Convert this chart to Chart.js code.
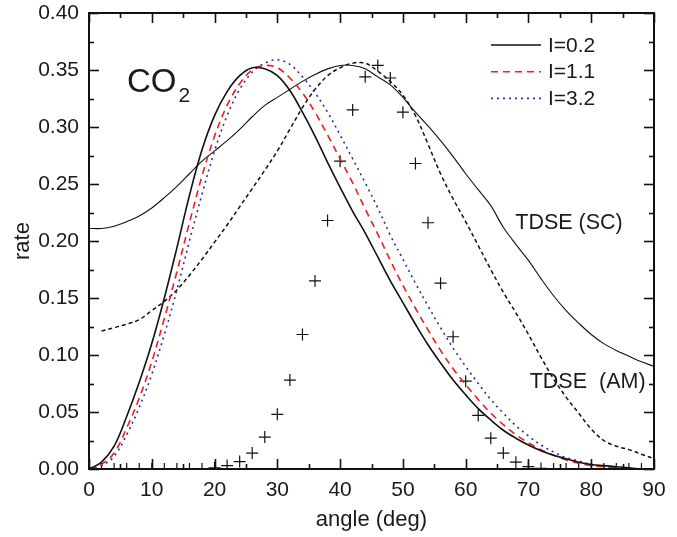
<!DOCTYPE html>
<html>
<head>
<meta charset="utf-8">
<script src="https://cdn.jsdelivr.net/npm/chart.js@4.4.1/dist/chart.umd.min.js"></script>
<style>
html,body{margin:0;padding:0;background:#fff;}
#wrap{width:677px;height:537px;position:relative;}
</style>
</head>
<body>
<div id="wrap"><canvas id="c" width="677" height="537"></canvas></div>
<script>
// angles (deg)
const angles = [0,2,4,6,8,10,12,14,16,18,20,22,24,26,28,30,32,34,36,38,40,42,44,46,48,50,52,54,56,58,60,62,64,66,68,70,72,74,76,78,80,82,84,86,88,90];
// I=0.2
const rateI02 = [0,0.006,0.020,0.046,0.076,0.110,0.150,0.194,0.240,0.280,0.310,0.331,0.345,0.352,0.351,0.345,0.332,0.313,0.292,0.269,0.247,0.226,0.207,0.186,0.165,0.146,0.127,0.109,0.093,0.078,0.065,0.053,0.043,0.034,0.027,0.021,0.016,0.012,0.009,0.006,0.004,0.003,0.002,0.001,0,0];
// I=1.1
const rateI11 = [0,0.004,0.014,0.036,0.062,0.094,0.132,0.173,0.216,0.257,0.292,0.319,0.338,0.350,0.354,0.352,0.343,0.330,0.313,0.293,0.272,0.251,0.228,0.206,0.183,0.161,0.141,0.122,0.104,0.088,0.074,0.061,0.049,0.039,0.030,0.023,0.017,0.012,0.008,0.005,0.003,0.002,0.001,0,0,0];
// I=3.2
const rateI32 = [0,0.003,0.011,0.030,0.054,0.083,0.118,0.157,0.200,0.241,0.279,0.310,0.333,0.348,0.356,0.359,0.355,0.344,0.330,0.313,0.293,0.272,0.251,0.229,0.205,0.184,0.163,0.143,0.124,0.106,0.090,0.075,0.061,0.049,0.038,0.029,0.021,0.015,0.010,0.007,0.004,0.002,0.001,0,0,0];
// TDSE (SC)
const rateSC = [0.211,0.211,0.213,0.217,0.222,0.229,0.238,0.248,0.259,0.270,0.279,0.288,0.298,0.309,0.319,0.326,0.333,0.340,0.346,0.351,0.354,0.354,0.351,0.344,0.337,0.326,0.313,0.301,0.288,0.274,0.259,0.245,0.231,0.212,0.197,0.183,0.167,0.152,0.139,0.128,0.118,0.110,0.104,0.099,0.094,0.090];
// TDSE (AM)
const rateAM = [null,0.121,0.124,0.127,0.131,0.139,0.147,0.157,0.170,0.184,0.199,0.214,0.230,0.246,0.262,0.279,0.298,0.317,0.333,0.345,0.352,0.356,0.356,0.349,0.340,0.328,0.310,0.285,0.259,0.237,0.217,0.196,0.175,0.155,0.137,0.118,0.098,0.079,0.063,0.049,0.035,0.025,0.020,0.017,0.013,0.009];
// crosses
const rateCross = [0,0,0,0,0,0,0,0,0,0,0.001,0.003,0.0065,0.014,0.028,0.048,0.078,0.118,0.165,0.218,0.270,0.315,0.344,0.354,0.343,0.313,0.268,0.216,0.163,0.116,0.077,0.047,0.027,0.014,0.006,0.002,0.0005,0,0,0,0,0,0,0,0,0];

const legendLabels = ['I=0.2','I=1.1','I=3.2'];
const xTitle = 'angle (deg)';
const yTitle = 'rate';

const FONT = '"Liberation Sans", Arial, Helvetica, sans-serif';
const pts = arr => angles.map((a,i)=>({x:a, y:arr[i]}));

const RED = '#f01e1e';
const BLUE = '#2a2ab4';

const deco = {
  id:'deco',
  afterDraw(chart){
    const ctx = chart.ctx, a = chart.chartArea, xs = chart.scales.x, ys = chart.scales.y;
    ctx.save();
    ctx.strokeStyle = '#111';
    const xt = xs.ticks.map(t=>t.value), yt = ys.ticks.map(t=>t.value);
    const xm = [], ym = [];
    for(let i=0;i<xt.length-1;i++) xm.push((xt[i]+xt[i+1])/2);
    for(let i=0;i<yt.length-1;i++) ym.push((yt[i]+yt[i+1])/2);
    const seg=(x1,y1,x2,y2)=>{ctx.beginPath();ctx.moveTo(x1,y1);ctx.lineTo(x2,y2);ctx.stroke();};
    ctx.lineWidth = 1.6;
    xt.forEach(v=>{const p=Math.round(xs.getPixelForValue(v))+0.5; seg(p,a.bottom,p,a.bottom-10); seg(p,a.top,p,a.top+10);});
    xm.forEach(v=>{const p=Math.round(xs.getPixelForValue(v))+0.5; seg(p,a.bottom,p,a.bottom-5); seg(p,a.top,p,a.top+5);});
    yt.forEach(v=>{const p=Math.round(ys.getPixelForValue(v))+0.5; seg(a.left,p,a.left+10,p); seg(a.right,p,a.right-10,p);});
    ym.forEach(v=>{const p=Math.round(ys.getPixelForValue(v))+0.5; seg(a.left,p,a.left+5,p); seg(a.right,p,a.right-5,p);});
    ctx.lineWidth = 2;
    ctx.strokeRect(a.left, a.top, a.right-a.left, a.bottom-a.top);
    // legend
    const lx = a.left + 402, ly0 = a.top + 32, dy = 26.7;
    chart.data.datasets.slice(0,3).forEach((ds,i)=>{
      const y = ly0 + i*dy;
      ctx.strokeStyle = ds.borderColor;
      ctx.lineWidth = ds.borderWidth;
      ctx.setLineDash(ds.borderDash || []);
      seg(lx, y, lx+50, y);
      ctx.setLineDash([]);
      ctx.fillStyle = '#1a1a1a';
      ctx.font = '21px ' + FONT;
      ctx.textBaseline = 'middle';
      ctx.textAlign = 'left';
      ctx.fillText(legendLabels[i], lx+57, y+1);
    });
    // annotations
    ctx.fillStyle = '#1a1a1a';
    ctx.textAlign = 'left';
    ctx.textBaseline = 'alphabetic';
    ctx.font = '33px ' + FONT;
    const cx = xs.getPixelForValue(6.05), cy = ys.getPixelForValue(0.331);
    ctx.fillText('CO', cx, cy);
    const w = ctx.measureText('CO').width;
    ctx.font = '21px ' + FONT;
    ctx.fillText('2', cx + w + 2, cy + 10);
    ctx.textBaseline = 'middle';
    ctx.font = '21.5px ' + FONT;
    ctx.fillText('TDSE (SC)', xs.getPixelForValue(67.9), ys.getPixelForValue(0.216));
    ctx.fillText('TDSE  (AM)', xs.getPixelForValue(70.2), ys.getPixelForValue(0.076));
    ctx.restore();
  }
};

const lineBase = {pointRadius:0, tension:0.35};

new Chart(document.getElementById('c'), {
  type:'line',
  data:{
    datasets:[
      Object.assign({label:legendLabels[0], data:pts(rateI02), borderColor:'#111', borderWidth:1.6}, lineBase),
      Object.assign({label:legendLabels[1], data:pts(rateI11), borderColor:RED, borderWidth:1.6, borderDash:[7,5]}, lineBase),
      Object.assign({label:legendLabels[2], data:pts(rateI32), borderColor:BLUE, borderWidth:1.6, borderDash:[2,4]}, lineBase),
      Object.assign({label:'TDSE (SC)', data:pts(rateSC), borderColor:'#111', borderWidth:1.1}, lineBase),
      Object.assign({label:'TDSE (AM)', data:pts(rateAM), borderColor:'#111', borderWidth:1.5, borderDash:[4,3], spanGaps:false}, lineBase),
      {label:'cross', data:pts(rateCross), showLine:false, pointStyle:'cross', pointRadius:6, pointBorderWidth:1.2, borderColor:'#111', pointBorderColor:'#111'}
    ]
  },
  options:{
    responsive:false,
    animation:false,
    events:[],
    layout:{padding:{left:10,right:23,top:13,bottom:0}},
    plugins:{legend:{display:false}, tooltip:{enabled:false}},
    scales:{
      x:{
        type:'linear', min:0, max:90,
        ticks:{stepSize:10, color:'#1a1a1a', font:{family:FONT, size:21}, padding:9, maxRotation:0},
        grid:{display:false, drawTicks:false},
        border:{display:true, color:'#111', width:2},
        title:{display:true, text:xTitle, color:'#1a1a1a', font:{family:FONT, size:22}, padding:{top:4,bottom:4}},
        afterFit(s){ s.height = 68; s.paddingLeft = 0; s.paddingRight = 0; }
      },
      y:{
        type:'linear', min:0, max:0.4,
        ticks:{stepSize:0.05, color:'#1a1a1a', font:{family:FONT, size:21}, padding:10, callback:v=>v.toFixed(2)},
        grid:{display:false, drawTicks:false},
        border:{display:true, color:'#111', width:2},
        title:{display:true, text:yTitle, color:'#1a1a1a', font:{family:FONT, size:22}, padding:{top:0,bottom:4}},
        afterFit(s){ s.width = 79; s.paddingTop = 0; s.paddingBottom = 0; }
      }
    }
  },
  plugins:[deco]
});
</script>
</body>
</html>
